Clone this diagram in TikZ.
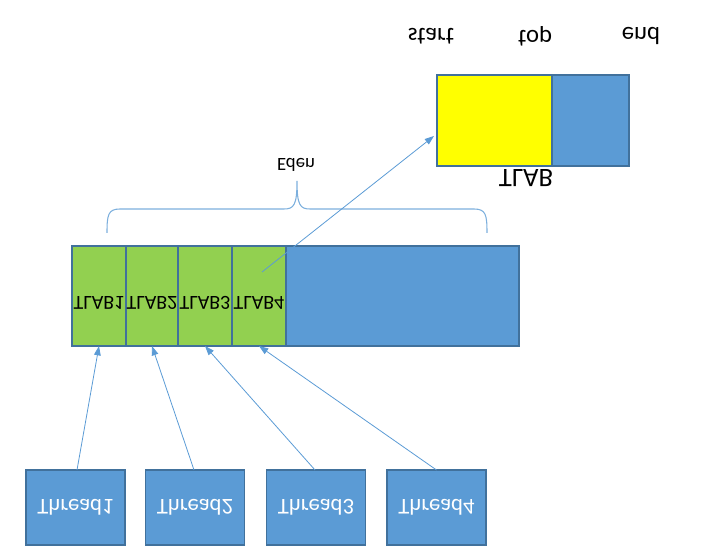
\documentclass[tikz,border=0pt]{standalone}
\usepackage{fontspec}
\setmainfont{Carlito}
\usetikzlibrary{arrows.meta,calc}
\definecolor{boxblue}{HTML}{5B9BD5}
\definecolor{edgeblue}{HTML}{41719C}
\definecolor{cellgreen}{HTML}{92D050}
\definecolor{lineblue}{HTML}{5B9BD5}
\definecolor{pureyellow}{RGB}{255,255,0}
\newcommand{\flip}[1]{\scalebox{1}[-1]{#1}}
\begin{document}
\begin{tikzpicture}[x=0.75pt,y=-0.75pt,
  cell/.style={draw=edgeblue,line width=0.9pt,inner sep=0pt,outer sep=0pt},
  threadbox/.style={cell,fill=boxblue,minimum width=74.25pt,minimum height=56.25pt,text=white,font=\fontsize{17}{19}\selectfont},
  greencell/.style={cell,fill=cellgreen,minimum height=75pt},
  lbl/.style={inner sep=0pt,text=black},
  conn/.style={draw=lineblue,line width=0.6pt,-{Triangle[length=7pt,width=5pt]}}]
\useasboundingbox (0,0) rectangle (707,559);
% top labels
\node[lbl,font=\fontsize{18.5}{20}\selectfont] (start) at (431,36) {\flip{start}};
\node[lbl,font=\fontsize{18.5}{20}\selectfont] (top) at (535,36) {\flip{top}};
\node[lbl,font=\fontsize{18.5}{20}\selectfont] (end) at (641,36) {\flip{end}};
% TLAB box
\node[cell,fill=pureyellow,minimum width=86.25pt,minimum height=68.25pt] (yellow) at (494.5,120.5) {};
\node[cell,fill=boxblue,minimum width=57.75pt,minimum height=68.25pt] (tfree) at (590.5,120.5) {};
\node[lbl,font=\fontsize{20}{22}\selectfont] (tlab) at (526,178) {\flip{TLAB}};
% Eden
\node[lbl,font=\fontsize{14}{16}\selectfont] (eden) at (296,165) {\flip{Eden}};
\draw[lineblue!80,line width=0.8pt] (107,233) .. controls (107,215) and (108,209) .. (120,209)
  -- (284,209) .. controls (294,209) and (297,205) .. (297,181)
  .. controls (297,205) and (300,209) .. (310,209)
  -- (474,209) .. controls (486,209) and (487,215) .. (487,233);
% Eden bar
\node[cell,fill=boxblue,minimum width=174.75pt,minimum height=75pt] (rest) at (402.5,296) {};
\node[greencell,minimum width=40.5pt] (c1) at (99,296) {};
\node[greencell,minimum width=39pt] (c2) at (152,296) {};
\node[greencell,minimum width=40.5pt] (c3) at (205,296) {};
\node[greencell,minimum width=40.5pt] (c4) at (259,296) {};
\node[lbl,font=\fontsize{15}{17}\selectfont] (t1) at (99,303) {\flip{TLAB1}};
\node[lbl,font=\fontsize{15}{17}\selectfont] (t2) at (152,303) {\flip{TLAB2}};
\node[lbl,font=\fontsize{15}{17}\selectfont] (t3) at (205,303) {\flip{TLAB3}};
\node[lbl,font=\fontsize{15}{17}\selectfont] (t4) at (259,303) {\flip{TLAB4}};
% threads
\node[threadbox] (th1) at (75.5,507.5) {\flip{Thread1}};
\node[threadbox] (th2) at (195,507.5) {\flip{Thread2}};
\node[threadbox] (th3) at (316,507.5) {\flip{Thread3}};
\node[threadbox] (th4) at (436.5,507.5) {\flip{Thread4}};
% connectors
\draw[conn] ($(th1.north)+(1.5,0)$) -- (c1.south);
\draw[conn] ($(th2.north)+(-1,0)$) -- (c2.south);
\draw[conn] ($(th3.north)+(-1,0)$) -- (c3.south);
\draw[conn] (th4.north) -- (c4.south);
\coordinate (src) at ($(c4.center)+(3,-24)$);
\coordinate (dst) at ($(yellow.west)+(-3,15.5)$);
\draw[conn] (src) -- (dst);
\end{tikzpicture}
\end{document}
